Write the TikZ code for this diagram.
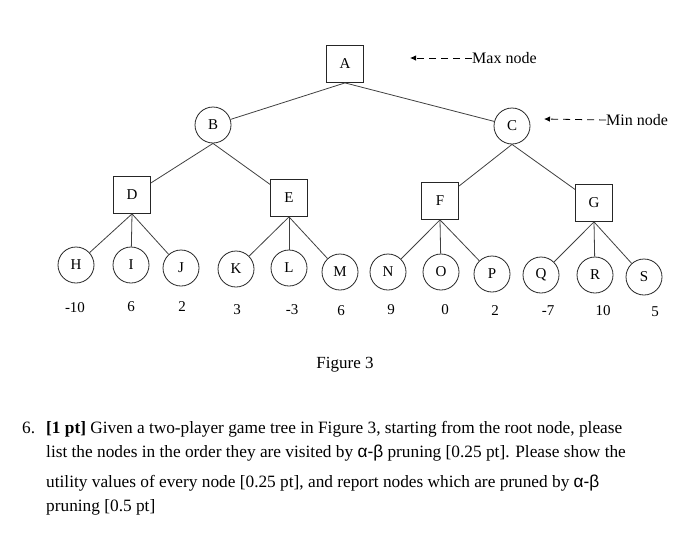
\documentclass[tikz,border=0pt]{standalone}
\usepackage{fontspec}
\setmainfont{Liberation Serif}
\newfontfamily\greekfont{Liberation Sans}
\usetikzlibrary{arrows.meta}
\newcommand{\ab}{{\greekfont α-β}}
\begin{document}
\begin{tikzpicture}[x=1pt, y=-1pt,
    every node/.style={font=\fontsize{15}{18}\selectfont},
    maxnode/.style={draw=black!85, line width=0.8pt, minimum width=37pt, minimum height=37pt, inner sep=0pt},
    minnode/.style={draw=black!85, line width=0.8pt, circle, minimum size=36pt, inner sep=0pt},
    edge/.style={draw=black!75, line width=0.8pt},
    hint/.style={draw=black, line width=0.8pt, dash pattern=on 7pt off 5pt, -{Latex[length=6pt, width=5.5pt]}},
    qline/.style={anchor=base west, inner sep=0pt, font=\fontsize{17.3}{20}\selectfont}]
    \useasboundingbox (0,0) rectangle (700,538);

    % Max and min levels
    \node[maxnode] (A) at (345,64) {A};
    \node[minnode] (B) at (213,125) {B}; \node[minnode] (C) at (512,126) {C};
    \node[maxnode] (D) at (132,195) {D}; \node[maxnode] (E) at (289,198) {E};
    \node[maxnode] (F) at (440,201) {F}; \node[maxnode] (G) at (594,203) {G};

    % Leaves
    \node[minnode] (H) at (76,265) {H}; \node[minnode] (I) at (131,265) {I}; \node[minnode] (J) at (181,268) {J};
    \node[minnode] (K) at (236,269) {K}; \node[minnode] (L) at (289,268) {L}; \node[minnode] (M) at (340,272) {M};
    \node[minnode] (N) at (388,272) {N}; \node[minnode] (O) at (441,272) {O}; \node[minnode] (P) at (492,274) {P};
    \node[minnode] (Q) at (541,275) {Q}; \node[minnode] (R) at (595,275) {R}; \node[minnode] (S) at (644,277) {S};

    % Tree edges
    \foreach \p/\c in {A/B,A/C,B/D,B/E,C/F,C/G,D/H,D/I,D/J,E/K,E/L,E/M,F/N,F/O,F/P,G/Q,G/R,G/S}
        \draw[edge] (\p.south) -- (\c);

    % Utility values
    \node (vH) at (75,308) {-10}; \node (vI) at (131,307) {6}; \node (vJ) at (182,307) {2};
    \node (vK) at (237,310) {3}; \node (vL) at (292,310) {-3}; \node (vM) at (341,311) {6};
    \node (vN) at (391,310) {9}; \node (vO) at (445,310) {0}; \node (vP) at (495,311) {2};
    \node (vQ) at (548,311) {-7}; \node (vR) at (603,311) {10}; \node (vS) at (655,312) {5};

    % Legend
    \coordinate (maxtip) at (410,58); \coordinate (mintip) at (544,119);
    \node[anchor=west, inner sep=0pt, font=\fontsize{16}{19}\selectfont] (maxlbl) at (472,58) {Max node};
    \node[anchor=west, inner sep=0pt, font=\fontsize{16}{19}\selectfont] (minlbl) at (606,120) {Min node};
    \draw[hint] (maxlbl.west) -- (maxtip);
    \draw[hint] (minlbl.west) -- (mintip);

    \node[font=\fontsize{17}{20}\selectfont] (caption) at (345,365) {Figure 3};

    % Question text
    \node[qline] (qnum) at (22,433) {6.};
    \node[qline] (q1) at (46,433) {\textbf{[1 pt]} Given a two-player game tree in Figure 3, starting from the root node, please};
    \node[qline] (q2) at (46,457) {list the nodes in the order they are visited by \ab{} pruning [0.25 pt]. Please show the};
    \node[qline] (q3) at (46,487) {utility values of every node [0.25 pt], and report nodes which are pruned by \ab};
    \node[qline] (q4) at (46,511) {pruning [0.5 pt]};
\end{tikzpicture}
\end{document}
